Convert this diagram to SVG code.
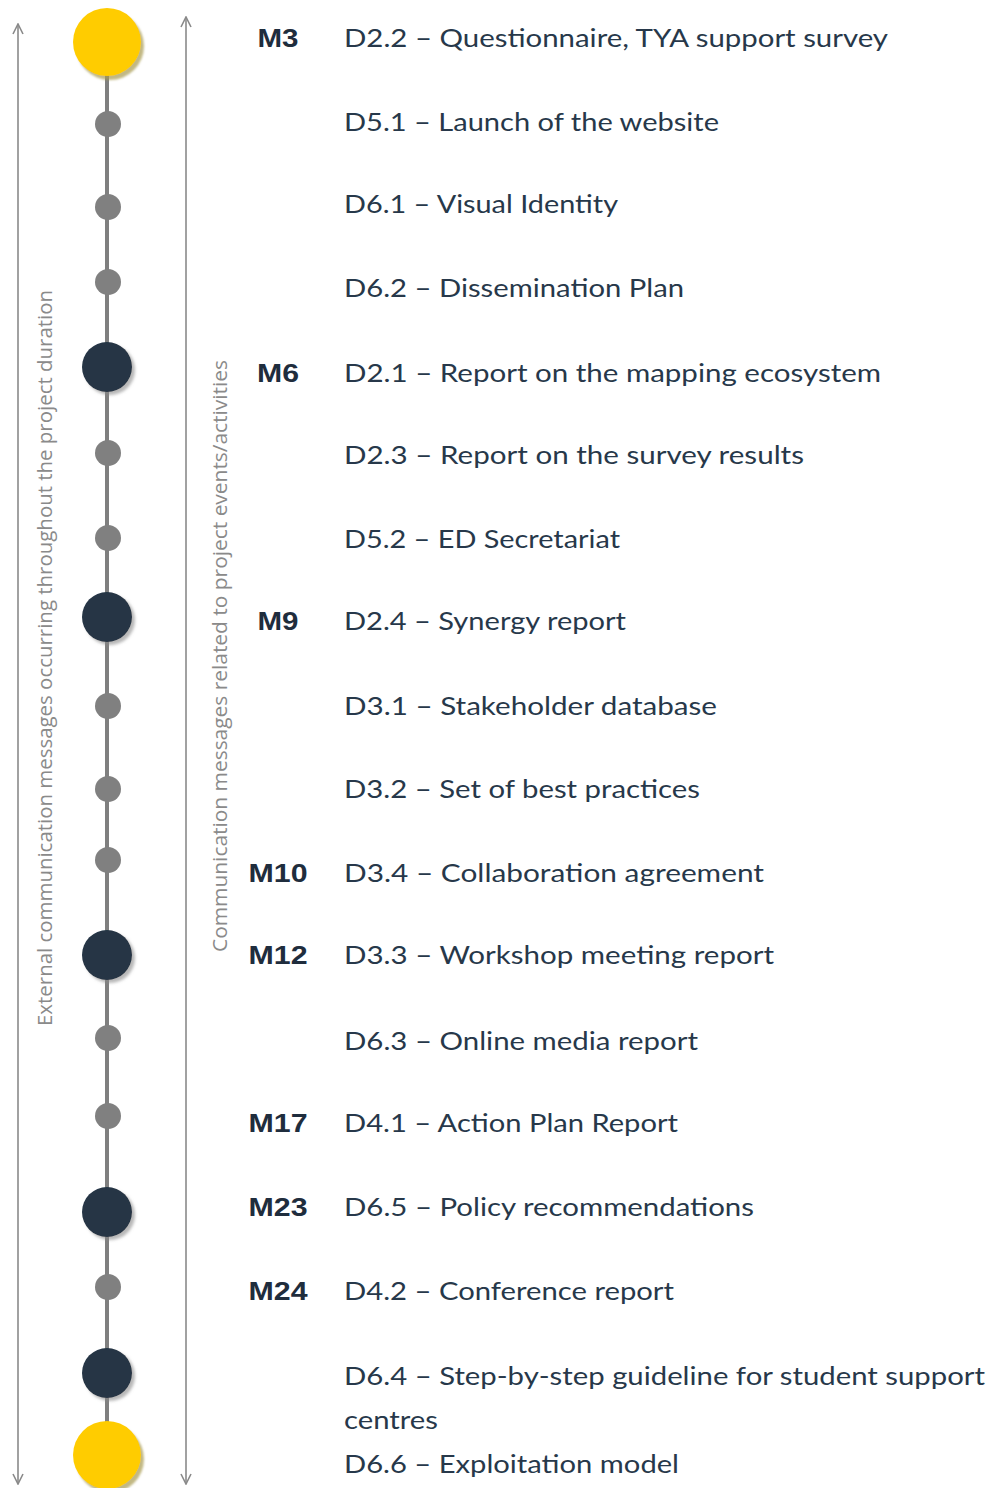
<svg xmlns="http://www.w3.org/2000/svg" width="994" height="1488" viewBox="0 0 994 1488">
<style>
.lbl{font-family:Lato,"Open Sans","Liberation Sans",sans-serif;font-size:25px;fill:#27384a}
.m{font-family:"Liberation Sans",Arial,sans-serif;font-weight:bold;font-size:25px;fill:#1f2d3d;text-anchor:middle}
.vt{font-family:"Open Sans","Liberation Sans",sans-serif;font-size:20px;fill:#8a8a8a}
.ax{stroke:#8a8a8a;stroke-width:1.6;fill:none}
.spine{stroke:#7f7f7f;stroke-width:4}
.small{fill:#808080}
.big{fill:#253545;filter:url(#sh)}
.yel{fill:#ffcc00;filter:url(#shy)}
</style>
<defs>
<marker id="ah" viewBox="0 0 12 12" refX="11" refY="6" markerWidth="12" markerHeight="12" markerUnits="userSpaceOnUse" orient="auto-start-reverse">
<path d="M1,1 L11,6 L1,11" fill="none" stroke="#8a8a8a" stroke-width="1.6"/>
</marker>
<filter id="sh" x="-30%" y="-30%" width="170%" height="170%">
<feDropShadow dx="3" dy="3" stdDeviation="1.5" flood-color="#888" flood-opacity="0.6"/>
</filter>
<filter id="shy" x="-30%" y="-30%" width="170%" height="170%">
<feDropShadow dx="3" dy="4" stdDeviation="1.2" flood-color="#a89a50" flood-opacity="0.7"/>
</filter>
</defs>
<rect width="994" height="1488" fill="#fff"/>
<g id="connectors">
<line class="ax" x1="18" y1="24" x2="18" y2="1484" marker-start="url(#ah)" marker-end="url(#ah)"/>
<line class="ax" x1="186" y1="17" x2="186" y2="1484" marker-start="url(#ah)" marker-end="url(#ah)"/>
<line class="spine" x1="107" y1="42" x2="107" y2="1455"/>
</g>
<g id="axis-labels">
<text class="vt" transform="translate(52,1026) rotate(-90)" textLength="736" lengthAdjust="spacingAndGlyphs">External communication messages occurring throughout the project duration</text>
<text class="vt" transform="translate(227,952) rotate(-90)" textLength="592" lengthAdjust="spacingAndGlyphs">Communication messages related to project events/activities</text>
</g>
<g id="timeline-nodes">
<circle id="n-start" class="yel" cx="107" cy="42" r="34"/>
<circle class="small" cx="108" cy="124" r="13"/>
<circle class="small" cx="108" cy="207" r="13"/>
<circle class="small" cx="108" cy="282" r="13"/>
<circle id="n-m6" class="big" cx="107" cy="367" r="25"/>
<circle class="small" cx="108" cy="453" r="13"/>
<circle class="small" cx="108" cy="538" r="13"/>
<circle id="n-m9" class="big" cx="107" cy="617" r="25"/>
<circle class="small" cx="108" cy="706" r="13"/>
<circle class="small" cx="108" cy="789" r="13"/>
<circle class="small" cx="108" cy="860" r="13"/>
<circle id="n-m12" class="big" cx="107" cy="955" r="25"/>
<circle class="small" cx="108" cy="1038" r="13"/>
<circle class="small" cx="108" cy="1116" r="13"/>
<circle id="n-m23" class="big" cx="107" cy="1212" r="25"/>
<circle class="small" cx="108" cy="1287" r="13"/>
<circle id="n-m24" class="big" cx="107" cy="1373" r="25"/>
<circle id="n-end" class="yel" cx="107" cy="1455" r="34"/>
</g>
<g id="milestones">
<text class="m" x="278" y="47" textLength="41" lengthAdjust="spacingAndGlyphs">M3</text>
<text class="m" x="278" y="382" textLength="42" lengthAdjust="spacingAndGlyphs">M6</text>
<text class="m" x="278" y="630" textLength="41" lengthAdjust="spacingAndGlyphs">M9</text>
<text class="m" x="278" y="882" textLength="59" lengthAdjust="spacingAndGlyphs">M10</text>
<text class="m" x="278" y="964" textLength="59" lengthAdjust="spacingAndGlyphs">M12</text>
<text class="m" x="278" y="1132" textLength="59" lengthAdjust="spacingAndGlyphs">M17</text>
<text class="m" x="278" y="1216" textLength="59" lengthAdjust="spacingAndGlyphs">M23</text>
<text class="m" x="278" y="1300" textLength="59" lengthAdjust="spacingAndGlyphs">M24</text>
</g>
<g id="deliverables">
<text class="lbl" x="344" y="47" textLength="544" lengthAdjust="spacingAndGlyphs">D2.2 – Questionnaire, TYA support survey</text>
<text class="lbl" x="344" y="131" textLength="375" lengthAdjust="spacingAndGlyphs">D5.1 – Launch of the website</text>
<text class="lbl" x="344" y="213" textLength="274" lengthAdjust="spacingAndGlyphs">D6.1 – Visual Identity</text>
<text class="lbl" x="344" y="297" textLength="340" lengthAdjust="spacingAndGlyphs">D6.2 – Dissemination Plan</text>
<text class="lbl" x="344" y="382" textLength="537" lengthAdjust="spacingAndGlyphs">D2.1 – Report on the mapping ecosystem</text>
<text class="lbl" x="344" y="464" textLength="460" lengthAdjust="spacingAndGlyphs">D2.3 – Report on the survey results</text>
<text class="lbl" x="344" y="548" textLength="276" lengthAdjust="spacingAndGlyphs">D5.2 – ED Secretariat</text>
<text class="lbl" x="344" y="630" textLength="282" lengthAdjust="spacingAndGlyphs">D2.4 – Synergy report</text>
<text class="lbl" x="344" y="715" textLength="373" lengthAdjust="spacingAndGlyphs">D3.1 – Stakeholder database</text>
<text class="lbl" x="344" y="798" textLength="356" lengthAdjust="spacingAndGlyphs">D3.2 – Set of best practices</text>
<text class="lbl" x="344" y="882" textLength="420" lengthAdjust="spacingAndGlyphs">D3.4 – Collaboration agreement</text>
<text class="lbl" x="344" y="964" textLength="430" lengthAdjust="spacingAndGlyphs">D3.3 – Workshop meeting report</text>
<text class="lbl" x="344" y="1050" textLength="354" lengthAdjust="spacingAndGlyphs">D6.3 – Online media report</text>
<text class="lbl" x="344" y="1132" textLength="334" lengthAdjust="spacingAndGlyphs">D4.1 – Action Plan Report</text>
<text class="lbl" x="344" y="1216" textLength="410" lengthAdjust="spacingAndGlyphs">D6.5 – Policy recommendations</text>
<text class="lbl" x="344" y="1300" textLength="330" lengthAdjust="spacingAndGlyphs">D4.2 – Conference report</text>
<text class="lbl" x="344" y="1385" textLength="641" lengthAdjust="spacingAndGlyphs">D6.4 – Step-by-step guideline for student support</text>
<text class="lbl" x="344" y="1429" textLength="94" lengthAdjust="spacingAndGlyphs">centres</text>
<text class="lbl" x="344" y="1473" textLength="335" lengthAdjust="spacingAndGlyphs">D6.6 – Exploitation model</text>
</g>
</svg>
